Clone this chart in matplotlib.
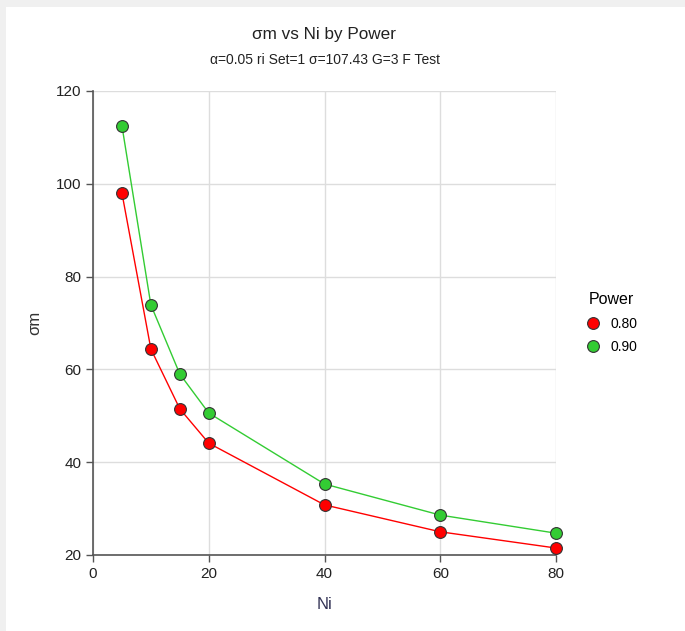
import matplotlib.pyplot as plt
from matplotlib.patches import Rectangle

plt.rcParams['font.family'] = ['Liberation Sans', 'DejaVu Sans']

ni = [5, 10, 15, 20, 40, 60, 80]
sm_080 = [98.0, 64.4, 51.5, 44.1, 30.8, 25.0, 21.5]
sm_090 = [112.5, 73.9, 59.0, 50.6, 35.3, 28.6, 24.7]
powers = ['0.80', '0.90']
colors = ['#ff0000', '#33cc33']

W, H = 685, 631
fig = plt.figure(figsize=(W / 100, H / 100), dpi=100, facecolor='#f0f0f0')
fig.patches.append(Rectangle((6 / W, 0), 1, 1 - 7 / H, transform=fig.transFigure,
                             facecolor='white', edgecolor='none', zorder=-10))

ax = fig.add_axes([93 / W, 1 - 555 / H, (556 - 93) / W, (555 - 91) / H])
for ys, lab, c in zip([sm_080, sm_090], powers, colors):
    ax.plot(ni, ys, '-', color=c, lw=1, zorder=2, clip_on=False)
    ax.plot(ni, ys, 'o', color=c, markersize=8.5, markeredgecolor='#333333',
            markeredgewidth=0.8, label=lab, zorder=3, clip_on=False)

ax.set_xlim(0, 80)
ax.set_ylim(20, 120)
ax.set_xticks([0, 20, 40, 60, 80])
ax.set_yticks([20, 40, 60, 80, 100, 120])
ax.grid(True, color='#dddddd', lw=1)
ax.set_axisbelow(True)
for s in ['top', 'right']:
    ax.spines[s].set_visible(False)
for s in ['left', 'bottom']:
    ax.spines[s].set_color('#555555')
    ax.spines[s].set_linewidth(1.2)
ax.tick_params(length=5, width=1, color='#555555', labelsize=11, labelcolor='#222222')
ax.set_xlabel('Ni', fontsize=12, color='#333355', labelpad=12)
ax.set_ylabel('σm', fontsize=12, color='#333333', labelpad=10)

fig.text((93 + 556) / 2 / W, 1 - 35 / H, 'σm vs Ni by Power', ha='center', va='center',
         fontsize=12.3, color='#222222')
fig.text((93 + 556) / 2 / W, 1 - 60 / H, 'α=0.05 ri Set=1 σ=107.43 G=3 F Test', ha='center',
         va='center', fontsize=10, color='#222222')

leg = ax.legend(title='Power', loc='upper left', bbox_to_anchor=(572 / W, 1 - 280 / H),
                bbox_transform=fig.transFigure, frameon=False, fontsize=10,
                title_fontsize=11.5, handletextpad=0.7, labelspacing=0.65, handlelength=1.2)

fig.savefig('out.png', dpi=100, facecolor=fig.get_facecolor())
